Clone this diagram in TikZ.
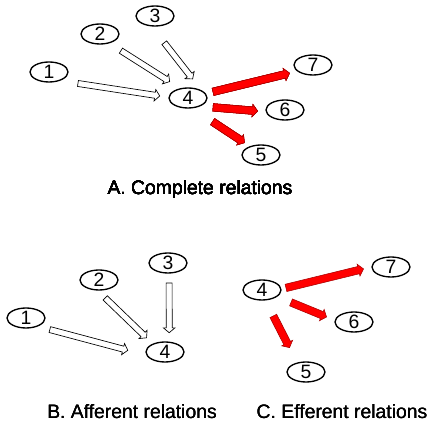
\documentclass[tikz,border=0pt]{standalone}
\usepackage{fontspec}
\setmainfont{Liberation Sans}
\usetikzlibrary{shapes.geometric,shapes.arrows,calc}

\tikzset{
  state/.style={draw, ellipse, line width=1pt, minimum width=28.5pt, minimum height=15pt, inner sep=0pt},
  afferent/.style={single arrow, draw=black, fill=white, line width=0.5pt, inner xsep=0pt, inner ysep=2pt,
    single arrow head extend=2.1pt, single arrow tip angle=100},
  efferent/.style={single arrow, draw=red!65!black, fill=red, line width=0.4pt, inner xsep=0pt, inner ysep=2.6pt,
    single arrow head extend=1.8pt, single arrow tip angle=100},
  caption/.style={anchor=base, inner sep=0pt},
}
% block arrow from node to node, gaps at both ends
\newcommand\relarrow[5]{%
  \path let \p1=($(#2)!#4!(#3)$), \p2=($(#3)!#5!(#2)$),
    \n1={atan2(\y2-\y1,\x2-\x1)}, \n2={veclen(\x2-\x1,\y2-\y1)} in
    node[#1, minimum height=\n2, rotate=\n1, anchor=tail] at (\p1) {};}

\begin{document}
\begin{tikzpicture}[x=0.75pt, y=-0.75pt, font=\fontsize{14.5pt}{17pt}\selectfont]
  \useasboundingbox (0,0) rectangle (429,427);

  % A. complete
  \foreach \i/\x/\y in {1/49/72, 2/100/34, 3/155/16, 4/188/98, 5/261/155, 6/285/110, 7/313/65}
    \node[state] (a\i) at (\x,\y) {\i};
  \foreach \s/\t/\u/\v in {a1.-38/a4.178/13.2pt/6.8pt, a2.-45/a4.129/10pt/9.5pt, a3.-108/a4.30/15.2pt/11pt}
    \relarrow{afferent}{\s}{\t}{\u}{\v}
  \foreach \s/\t/\u/\v in {a4.14/a7.202/5.3pt/6.1pt, a4.-34/a6.185/9.4pt/6.2pt, a4.-67/a5.142/17.9pt/5pt}
    \relarrow{efferent}{\s}{\t}{\u}{\v}
  \node[caption] (capa) at (200,195) {A. Complete relations};

  % B. afferent
  \foreach \i/\x/\y in {1/26/318, 2/99/280, 3/168/263, 4/165/352}
    \node[state] (b\i) at (\x,\y) {\i};
  \foreach \s/\t/\u/\v in {b1.-35/b4.190/8.9pt/14.6pt, b2.-97/b4.146/7.6pt/6.6pt, b3.-84/b4.68/6.75pt/6.9pt}
    \relarrow{afferent}{\s}{\t}{\u}{\v}
  \node[caption] (capb) at (132,419) {B. Afferent relations};

  % C. efferent
  \foreach \i/\x/\y in {4/262/290, 5/306/372, 6/354/322, 7/391/267}
    \node[state] (c\i) at (\x,\y) {\i};
  \foreach \s/\t/\u/\v in {c4.3/c7.180/3.2pt/6.2pt, c4.-24/c6.175/11pt/6.7pt, c4.-72/c5.133/12.8pt/12.7pt}
    \relarrow{efferent}{\s}{\t}{\u}{\v}
  \node[caption] (capc) at (342,419) {C. Efferent relations};
\end{tikzpicture}
\end{document}
